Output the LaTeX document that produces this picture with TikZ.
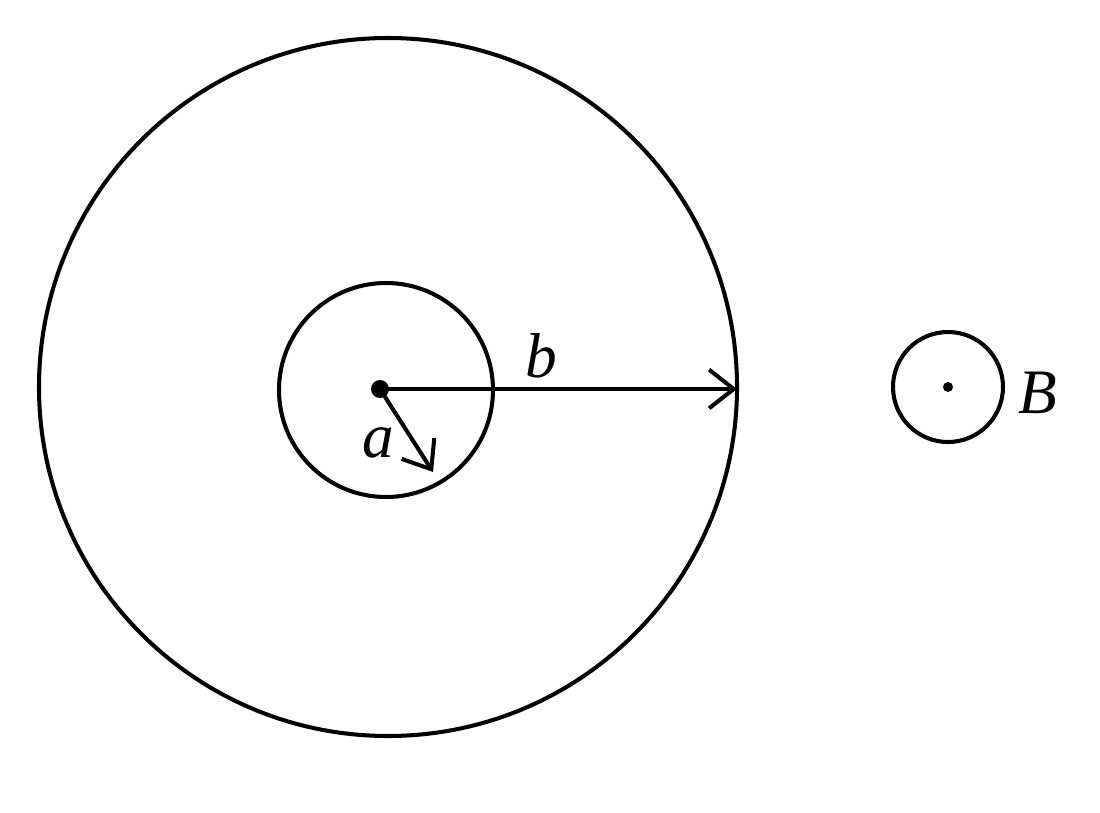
\documentclass[tikz,border=0pt]{standalone}
\usepackage{fontspec}
\setmainfont{Liberation Serif}
\usetikzlibrary{arrows.meta}
\begin{document}
\begin{tikzpicture}[x=0.01cm,y=-0.01cm,
  line/.style={line width=1.15pt},
  arr/.style={line, -{Straight Barb[length=7pt,width=11pt]}},
  lab/.style={font=\fontsize{18}{20}\selectfont\itshape, inner sep=0pt}]
\useasboundingbox (0,0) rectangle (1100,812);
\coordinate (O) at (380,389);
\node[circle, draw, line, minimum size=700\pgflinewidth, inner sep=0pt] (big) at (388,387) {};
\draw[line] (388,387) circle (349);
\draw[line] (386,390) circle (107);
\fill (O) circle (9);
\coordinate (bend) at (737,389);
\coordinate (aend) at (433,472);
\draw[arr] (O) -- (bend);
\draw[arr] (O) -- (aend);
\node[lab] (lb) at (541,356) {b};
\node[lab] (la) at (378,443) {a};
\draw[line] (948,387) circle (55);
\fill (948,387) circle (5);
\node[lab] (lB) at (1038,393) {B};
\end{tikzpicture}
\end{document}
